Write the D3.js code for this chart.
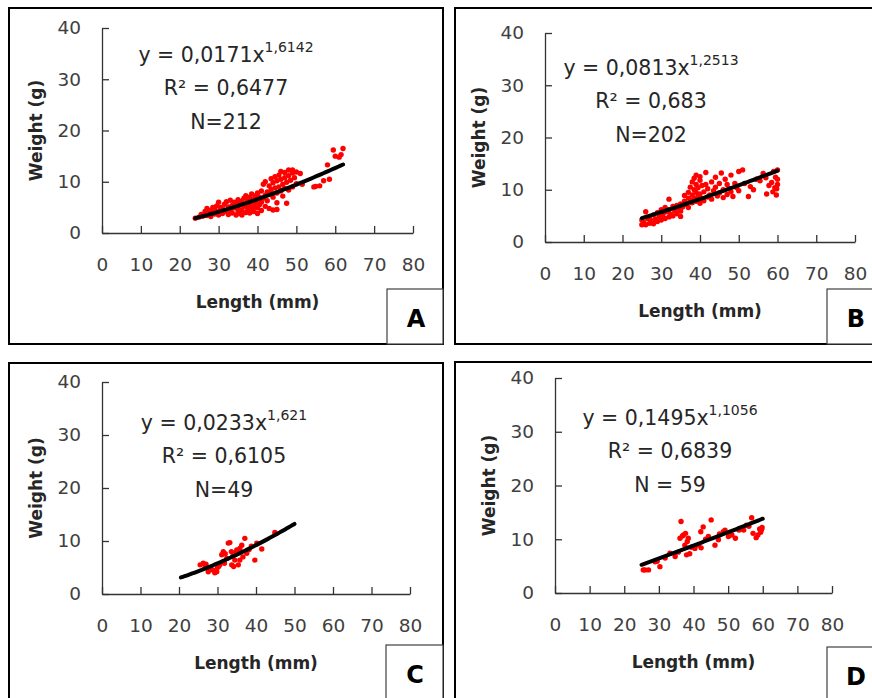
<!DOCTYPE html>
<html>
<head>
<meta charset="utf-8">
<script src="https://cdn.jsdelivr.net/npm/d3@7"></script>
<style>
  body { margin: 0; background: #fff; }
  svg { display: block; }
</style>
</head>
<body>
<script>
// length (mm), weight (g)
const ptsA = [
  [24,2.9],[25,3.1],[25.5,3.6],[26,3.3],[26.5,4.2],[27,3.4],[27,4.8],[27.5,3.9],[28,4.4],[28,3.2],[28.5,5.0],[29,3.7],[29,4.6],[29.5,5.3],[30,3.5],[30,4.2],[30,6.0],
  [30.5,5.0],[31,3.8],[31,4.7],[31.5,5.6],[32,4.2],[32,6.1],[32.5,3.6],[32.5,5.1],[33,4.6],[33,6.4],[33.5,5.4],[33.5,3.9],[34,4.9],[34,6.0],[34.5,3.5],[34.5,5.6],[35,4.3],[35,6.5],[35,5.0],
  [35.5,3.8],[35.5,5.7],[36,4.5],[36,6.2],[36,3.5],[36.5,5.2],[36.5,6.8],[37,4.0],[37,5.6],[37,7.3],[37.5,4.8],[37.5,6.4],[38,3.9],[38,5.3],[38,7.0],[38.5,4.6],[38.5,6.0],[38.5,7.6],[39,5.1],[39,6.6],[39,4.2],[39.5,5.8],[39.5,7.3],[40,4.9],[40,6.3],[40,7.8],[40,3.8],
  [40.5,5.5],[40.5,7.0],[41,6.0],[41,8.2],[41,4.4],[41.5,6.8],[41.5,9.5],[42,7.4],[42,5.2],[42,10.0],[42.5,8.0],[42.5,6.3],[43,7.6],[43,9.2],[43,4.8],[43.5,8.5],[43.5,10.6],[44,7.0],[44,9.8],[44,4.5],[44.5,8.8],[44.5,11.0],[45,7.8],[45,10.2],[45,5.9],[45,4.6],
  [45.5,9.0],[45.5,11.3],[46,8.2],[46,10.5],[46,12.0],[46.5,9.5],[46.5,7.2],[47,10.8],[47,8.7],[47,11.8],[47.5,5.8],[47.5,9.9],[48,11.2],[48,8.4],[48,12.3],[48.5,10.3],[49,9.0],[49,11.7],[49,12.3],[49.5,10.8],[50,9.6],[50,11.9],
  [51,11.6],[51.5,9.5],[54.5,9.0],[55,9.1],[56,9.2],[57,10.2],[58,13.3],[58.5,10.5],[59.5,16.2],[60,15.0],[61,14.8],[61.5,15.3],[62,16.5]
];
const ptsB = [
  [25,3.3],[25,4.2],[25.5,3.8],[26,3.3],[26,5.8],[26.5,4.5],[27,3.6],[27,4.9],[27.5,4.1],[28,3.5],[28,5.2],[28.5,4.4],[29,3.9],[29,5.6],[29.5,4.8],[30,4.2],[30,6.2],[30,5.0],
  [30.5,5.4],[31,4.5],[31,6.6],[31.5,5.8],[32,4.8],[32,8.2],[32,6.2],[32.5,5.3],[33,6.8],[33,5.0],[33.5,6.0],[34,5.4],[34,7.0],[34.5,6.4],[35,5.9],[35,7.3],[35,4.9],
  [35.5,6.7],[36,7.8],[36,8.9],[36.5,7.2],[37,8.4],[37,9.5],[37,6.6],[37.5,8.0],[37.5,10.5],[38,9.0],[38,11.5],[38,7.5],[38.5,10.0],[38.5,12.2],[38.5,8.4],[39,9.5],[39,11.0],[39,12.8],[39,7.8],[39.5,8.8],[39.5,10.4],[40,9.2],[40,11.8],[40,7.4],[40,12.5],
  [40.5,8.3],[40.5,10.8],[41,9.6],[41,7.9],[41.5,13.3],[41.5,11.0],[42,8.6],[42,10.2],[42.5,9.0],[43,11.5],[43,8.2],[43.5,9.8],[44,12.4],[44,10.5],[44.5,8.8],[45,11.2],[45,9.4],[45.5,13.2],[46,10.0],[46,8.5],[46.5,12.0],[47,9.1],[47,11.0],[47.5,10.2],[48,12.8],[48,9.6],[48.5,8.7],[49,11.2],[49.5,10.4],[50,13.5],[50,9.8],
  [51,13.8],[51.5,11.2],[52.5,8.7],[53,10.6],[53.8,10.0],[54.5,12.0],[55.5,11.7],[56.3,13.1],[57,12.3],[57.2,9.2],[57.8,10.8],[58.5,11.4],[58.8,9.6],[59,13.5],[59.3,10.4],[59.5,12.4],[59.7,9.0],[60,11.0],[60,13.8],[60,12.0],[59.8,10.2]
];
const ptsC = [
  [25.5,5.5],[26.3,5.8],[26.8,5.0],[27.6,4.2],[28.2,4.8],[28.9,4.5],[29.3,4.0],[29.8,4.2],[30.3,5.2],[30.6,5.5],[31.1,7.4],[31.5,8.0],[31.8,5.8],[32.4,6.7],[32.8,9.6],[33.2,9.7],[33.6,8.0],[33.7,5.5],[34.0,7.2],[34.5,6.4],
  [34.8,7.8],[35.0,8.3],[35.4,5.5],[35.8,6.4],[35.8,8.6],[36.3,9.2],[36.6,7.0],[37.1,10.5],[37.6,7.7],[38.2,8.4],[39.7,6.4],[40.2,9.6],[41.5,8.5],[44.9,11.6],[27.0,5.6],[30.0,5.0],[32.0,7.6],[34.2,5.2],[36.0,8.0],[38.8,9.0]
];
const ptsD = [
  [25.5,4.3],[26,4.3],[27,4.3],[28.9,5.8],[29.5,5.9],[30.3,4.9],[31.8,6.5],[33.2,7.4],[34.7,6.8],[35.6,7.6],[36.4,13.3],[36.1,10.2],[36.8,10.6],[37.1,10.8],[37.5,8.9],[38,7.1],[37.7,11.1],[38.5,10.2],[38.2,9.6],[38.9,7.3],
  [39.4,8.5],[40.4,8.3],[41.4,8.9],[42.1,11.4],[42.8,12.3],[42.2,8.4],[43.5,10.0],[44.3,10.5],[45.1,13.6],[46.2,8.9],[47.2,9.9],[47.5,11.0],[48.6,11.4],[49.1,11.7],[50.1,10.5],[51.1,10.8],[52.1,10.2],[53.1,11.7],[53.5,11.8],[54.5,11.7],
  [55.3,12.6],[56,12.4],[56.8,14.0],[57.2,11.1],[58.1,10.3],[58.6,10.8],[59.1,11.9],[59.8,12.2],[59.4,11.3],[59.7,11.8]
];

// power trend lines y = a * x^b, drawn over the range of each sample
const coefA = [0.0171, 1.6142], rangeA = [24, 62];
const coefB = [0.0813, 1.2513], rangeB = [25, 60];
const coefC = [0.0233, 1.621], rangeC = [20.5, 50];
const coefD = [0.1495, 1.1056], rangeD = [25, 60];

const eqMain = ["y = 0,0171x", "y = 0,0813x", "y = 0,0233x", "y = 0,1495x"];
const eqExp = ["1,6142", "1,2513", "1,621", "1,1056"];
const r2Text = ["R² = 0,6477", "R² = 0,683", "R² = 0,6105", "R² = 0,6839"];
const nText = ["N=212", "N=202", "N=49", "N = 59"];
const letters = ["A", "B", "C", "D"];

const xTicks = [0, 10, 20, 30, 40, 50, 60, 70, 80];
const yTicks = [0, 10, 20, 30, 40];

const W = 872, H = 698;
const svg = d3.select("body").append("svg").attr("width", W).attr("height", H);

// layout of each panel (frame, plot area, label box, text centre)
const panels = [
  { pts: ptsA, coef: coefA, range: rangeA, frame: [9, 8, 434, 336], plot: [102, 413, 28, 233], box: [387, 289, 56, 55], eqX: 226, eqY: 62 },
  { pts: ptsB, coef: coefB, range: rangeB, frame: [455, 8, 440, 336], plot: [545, 855, 33, 242], box: [827, 289, 56, 55], eqX: 651, eqY: 75 },
  { pts: ptsC, coef: coefC, range: rangeC, frame: [9, 363, 434, 360], plot: [102, 410, 382, 594], box: [386, 645, 57, 60], eqX: 224, eqY: 430 },
  { pts: ptsD, coef: coefD, range: rangeD, frame: [455, 362, 440, 360], plot: [555, 832, 378, 593], box: [827, 647, 56, 60], eqX: 670, eqY: 425 }
];

const font = "DejaVu Sans, sans-serif";

panels.forEach(function (p, i) {
  const g = svg.append("g");

  g.append("rect")
    .attr("x", p.frame[0]).attr("y", p.frame[1])
    .attr("width", p.frame[2]).attr("height", p.frame[3])
    .attr("fill", "none").attr("stroke", "#000").attr("stroke-width", 2);

  const x = d3.scaleLinear().domain([0, 80]).range([p.plot[0], p.plot[1]]);
  const y = d3.scaleLinear().domain([0, 40]).range([p.plot[3], p.plot[2]]);

  const xAxis = g.append("g")
    .attr("transform", "translate(0," + p.plot[3] + ")")
    .call(d3.axisBottom(x).tickValues(xTicks).tickSizeInner(-7).tickSizeOuter(0).tickPadding(25));
  const yAxis = g.append("g")
    .attr("transform", "translate(" + p.plot[0] + ",0)")
    .call(d3.axisLeft(y).tickValues(yTicks).tickSizeInner(-7).tickSizeOuter(0).tickPadding(21));

  [xAxis, yAxis].forEach(function (a) {
    a.select(".domain").attr("stroke", "#333").attr("stroke-width", 1.3);
    a.selectAll(".tick line").attr("stroke", "#333").attr("stroke-width", 1.3);
    a.selectAll(".tick text").attr("fill", "#404040")
      .style("font-family", font).style("font-size", "18.5px");
  });

  // points
  g.append("g").selectAll("circle")
    .data(p.pts)
    .enter()
    .append("circle")
    .attr("cx", function (d) { return x(d[0]); })
    .attr("cy", function (d) { return y(d[1]); })
    .attr("r", 2.7)
    .attr("fill", "#ff0000");

  // trend line
  const xs = d3.range(p.range[0], p.range[1] + 0.001, (p.range[1] - p.range[0]) / 60);
  const line = d3.line()
    .x(function (v) { return x(v); })
    .y(function (v) { return y(p.coef[0] * Math.pow(v, p.coef[1])); });
  g.append("path")
    .attr("d", line(xs))
    .attr("fill", "none")
    .attr("stroke", "#000")
    .attr("stroke-width", 4)
    .attr("stroke-linecap", "round");

  // axis titles
  g.append("text")
    .attr("x", (p.plot[0] + p.plot[1]) / 2)
    .attr("y", p.plot[3] + 75)
    .attr("text-anchor", "middle")
    .style("font-family", font).style("font-size", "17px").style("font-weight", "bold")
    .attr("fill", "#262626")
    .text("Length (mm)");
  g.append("text")
    .attr("transform", "translate(" + (p.plot[0] - 60) + "," + ((p.plot[2] + p.plot[3]) / 2) + ") rotate(-90)")
    .attr("text-anchor", "middle")
    .style("font-family", font).style("font-size", "17px").style("font-weight", "bold")
    .attr("fill", "#262626")
    .text("Weight (g)");

  // equation block
  const eq = g.append("text")
    .attr("x", p.eqX).attr("y", p.eqY)
    .attr("text-anchor", "middle")
    .style("font-family", font).style("font-size", "20.5px")
    .attr("fill", "#262626");
  eq.append("tspan").text(eqMain[i]);
  eq.append("tspan").attr("dy", -10).style("font-size", "14px").text(eqExp[i]);

  g.append("text")
    .attr("x", p.eqX).attr("y", p.eqY + 33)
    .attr("text-anchor", "middle")
    .style("font-family", font).style("font-size", "20.5px")
    .attr("fill", "#262626")
    .text(r2Text[i]);

  g.append("text")
    .attr("x", p.eqX).attr("y", p.eqY + 67)
    .attr("text-anchor", "middle")
    .style("font-family", font).style("font-size", "20.5px")
    .attr("fill", "#262626")
    .text(nText[i]);

  // letter box
  g.append("rect")
    .attr("x", p.box[0]).attr("y", p.box[1])
    .attr("width", p.box[2]).attr("height", p.box[3])
    .attr("fill", "#fff").attr("stroke", "#404040").attr("stroke-width", 1.2);
  g.append("text")
    .attr("x", p.box[0] + 29).attr("y", p.box[1] + 38)
    .attr("text-anchor", "middle")
    .style("font-family", font).style("font-size", "24px").style("font-weight", "bold")
    .attr("fill", "#000")
    .text(letters[i]);
});
</script>
</body>
</html>
